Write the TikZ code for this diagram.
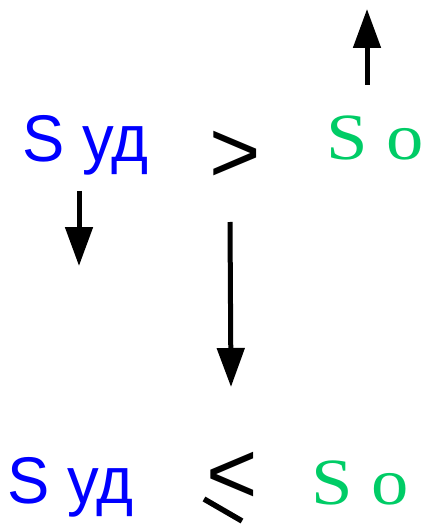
\documentclass[tikz,border=0pt]{standalone}
\usepackage{fontspec}
\usepackage{graphicx}
\setmainfont{Liberation Serif}
\newfontfamily\arialf{Liberation Sans}
\newfontfamily\timesf{Liberation Serif}
\usetikzlibrary{arrows.meta}
\definecolor{sblue}{RGB}{0,0,255}
\definecolor{sgreen}{RGB}{0,204,102}
\tikzset{
  bluetxt/.style={inner sep=0pt, anchor=base west, text=sblue, font=\arialf\fontsize{66}{70}\selectfont},
  greentxt/.style={inner sep=0pt, anchor=base west, text=sgreen, font=\timesf\fontsize{66}{70}\selectfont},
  reltxt/.style={inner sep=0pt, anchor=base west, text=black, font=\arialf\fontsize{88}{90}\selectfont},
  bigarrow/.style={line width=5pt, -{Triangle[length=39pt, width=27pt]}}
}
\begin{document}
\begin{tikzpicture}[x=1pt, y=-1pt]
\useasboundingbox (0,0) rectangle (431,526);
% top row
\node[bluetxt] (sud1) at (22,162) {\scalebox{0.96}[1]{S уд}};
\node[reltxt] (gt) at (209,183) {>};
\node[greentxt] (so1) at (326,160) {\scalebox{1.13}[1]{S o}};
% bottom row
\node[bluetxt] (sud2) at (7,503) {\scalebox{0.96}[1]{S уд}};
\node[reltxt] (lt) at (206,503) {<};
\node[greentxt] (so2) at (311,504) {\scalebox{1.13}[1]{S o}};
% slanted bar of the less-or-equal sign
\coordinate (barA) at (204,499);
\coordinate (barB) at (242,521);
\draw[line width=5.5pt] (barA) -- (barB);
% arrows
\coordinate (upS) at (367,85);
\coordinate (upT) at (367,9);
\draw[bigarrow] (upS) -- (upT);
\coordinate (lS) at (79,191);
\coordinate (lT) at (79,266);
\draw[bigarrow] (lS) -- (lT);
\coordinate (mS) at (230,222);
\coordinate (mT) at (231,387);
\draw[bigarrow] (mS) -- (mT);
\end{tikzpicture}
\end{document}
